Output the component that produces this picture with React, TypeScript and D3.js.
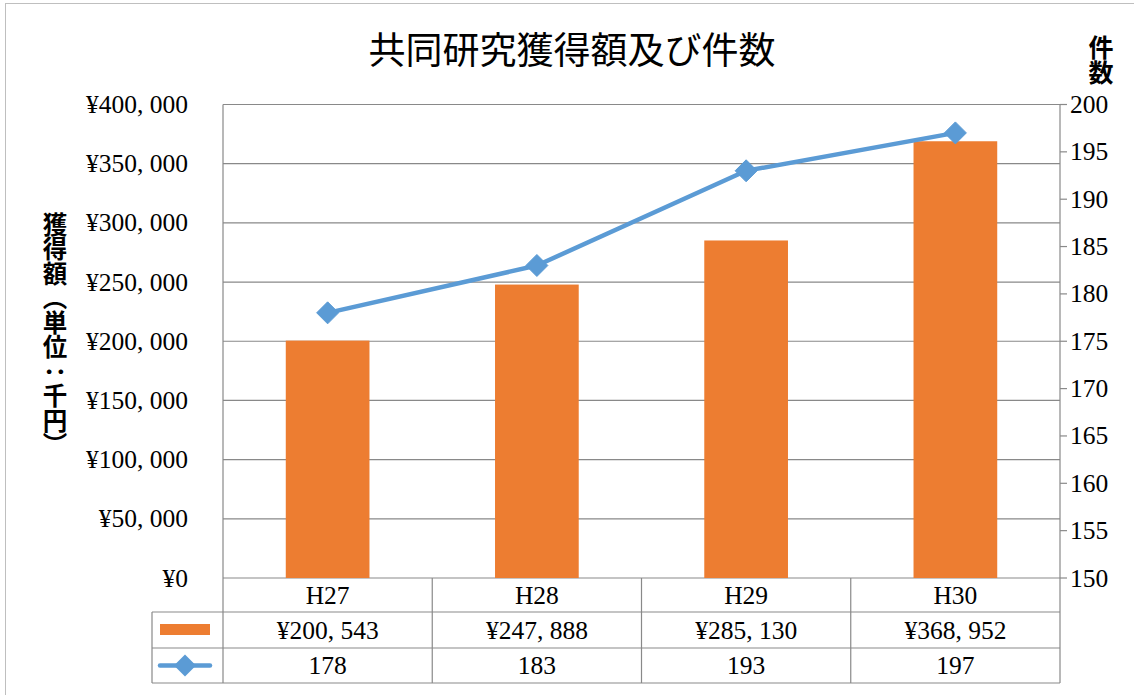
import { scaleBand, scaleLinear, line, format } from "d3";

// chart values
const categories = ["H27", "H28", "H29", "H30"];
const amounts = [200543, 247888, 285130, 368952];
const counts = [178, 183, 193, 197];
const amountTicks = [0, 50000, 100000, 150000, 200000, 250000, 300000, 350000, 400000];
const countTicks = [150, 155, 160, 165, 170, 175, 180, 185, 190, 195, 200];

const W = 1134;
const H = 695;
const plot = { left: 223, right: 1060, top: 104.5, bottom: 578 };
const rows = [578, 612, 648, 683];
const legendLeft = 152;

const ORANGE = "#ED7D31";
const BLUE = "#5B9BD5";
const GRID = "#898989";
const NUM_FONT = "'Liberation Serif', 'DejaVu Serif', serif";
const JP_FONT = "'Noto Sans CJK JP', 'Noto Sans', sans-serif";
const NUM_SIZE = 25.5;

// excel-ish yen format, wide comma
const yen = (v: number) => "¥" + format(",")(v).replace(/,/g, ", ");

const App = () => {
  const x = scaleBand<string>().domain(categories).range([plot.left, plot.right]).paddingInner(0).paddingOuter(0);
  const yLeft = scaleLinear().domain([0, 400000]).range([plot.bottom, plot.top]);
  const yRight = scaleLinear().domain([150, 200]).range([plot.bottom, plot.top]);
  const barW = x.bandwidth() * 0.4;
  const cx = (c: string) => (x(c) ?? 0) + x.bandwidth() / 2;

  const countLine = line<number>()
    .x((d, i) => cx(categories[i]))
    .y((d) => yRight(d));

  const diamond = (px: number, py: number, r: number) =>
    `M${px},${py - r}L${px + r},${py}L${px},${py + r}L${px - r},${py}Z`;

  const midRow = (i: number) => (rows[i] + rows[i + 1]) / 2;

  return (
    <div style={{ position: "absolute", left: 0, top: 0 }}>
      <svg width={W} height={H} style={{ display: "block", background: "#fff" }}>
        {/* chart area border */}
        <rect x={5.5} y={3.5} width={W} height={H} fill="#fff" stroke="#BFBFBF" />

        <text x={572} y={48} textAnchor="middle" dominantBaseline="central" fontFamily={JP_FONT} fontSize={37}>
          共同研究獲得額及び件数
        </text>

        {/* gridlines */}
        {amountTicks.map((t) => (
          <line key={t} x1={plot.left} x2={plot.right} y1={yLeft(t)} y2={yLeft(t)} stroke={GRID} strokeWidth={1.2} />
        ))}
        <line x1={plot.left} x2={plot.left} y1={plot.top} y2={plot.bottom} stroke={GRID} strokeWidth={1.2} />
        <line x1={plot.right} x2={plot.right} y1={plot.top} y2={plot.bottom} stroke={GRID} strokeWidth={1.2} />

        {/* left tick labels */}
        {amountTicks.map((t) => (
          <text key={t} x={188} y={yLeft(t)} textAnchor="end" dominantBaseline="central" fontFamily={NUM_FONT} fontSize={NUM_SIZE}>
            {yen(t)}
          </text>
        ))}

        {/* right axis ticks and labels */}
        {countTicks.map((t) => (
          <g key={t}>
            <line x1={plot.right} x2={plot.right + 7} y1={yRight(t)} y2={yRight(t)} stroke={GRID} strokeWidth={1.2} />
            <text x={1070} y={yRight(t)} dominantBaseline="central" fontFamily={NUM_FONT} fontSize={NUM_SIZE}>
              {t}
            </text>
          </g>
        ))}

        {/* axis titles */}
        <text
          x={55}
          y={212}
          fontFamily={JP_FONT}
          fontWeight="bold"
          fontSize={24.5}
          style={{ writingMode: "vertical-rl" }}
        >
          獲得額（単位：千円）
        </text>
        <text
          x={1101}
          y={35}
          fontFamily={JP_FONT}
          fontWeight="bold"
          fontSize={25}
          style={{ writingMode: "vertical-rl" }}
        >
          件数
        </text>

        {/* bars */}
        {categories.map((c, i) => (
          <rect
            key={c}
            x={cx(c) - barW / 2}
            y={yLeft(amounts[i])}
            width={barW}
            height={plot.bottom - yLeft(amounts[i])}
            fill={ORANGE}
          />
        ))}

        {/* count line */}
        <path d={countLine(counts) ?? ""} fill="none" stroke={BLUE} strokeWidth={4.5} strokeLinejoin="round" />
        {counts.map((v, i) => (
          <path key={i} d={diamond(cx(categories[i]), yRight(v), 11)} fill={BLUE} stroke={BLUE} strokeWidth={1} strokeLinejoin="round" />
        ))}

        {/* data table */}
        <g stroke={GRID} strokeWidth={1.2}>
          <line x1={legendLeft} x2={plot.right} y1={rows[1]} y2={rows[1]} />
          <line x1={legendLeft} x2={plot.right} y1={rows[2]} y2={rows[2]} />
          <line x1={legendLeft} x2={plot.right} y1={rows[3]} y2={rows[3]} />
          <line x1={legendLeft} x2={legendLeft} y1={rows[1]} y2={rows[3]} />
          {categories.map((c) => (
            <line key={c} x1={x(c)} x2={x(c)} y1={rows[0]} y2={rows[3]} />
          ))}
          <line x1={plot.right} x2={plot.right} y1={rows[0]} y2={rows[3]} />
        </g>

        {categories.map((c, i) => (
          <g key={c} fontFamily={NUM_FONT} fontSize={NUM_SIZE} textAnchor="middle">
            <text x={cx(c)} y={midRow(0)} dominantBaseline="central">{c}</text>
            <text x={cx(c)} y={midRow(1)} dominantBaseline="central">{yen(amounts[i])}</text>
            <text x={cx(c)} y={midRow(2)} dominantBaseline="central">{counts[i]}</text>
          </g>
        ))}

        {/* legend keys */}
        <rect x={160} y={624} width={50} height={11} fill={ORANGE} />
        <line x1={160} x2={210} y1={midRow(2)} y2={midRow(2)} stroke={BLUE} strokeWidth={4.5} strokeLinecap="round" />
        <path d={diamond(185, midRow(2), 11)} fill={BLUE} />
      </svg>
    </div>
  );
};

export default App;
